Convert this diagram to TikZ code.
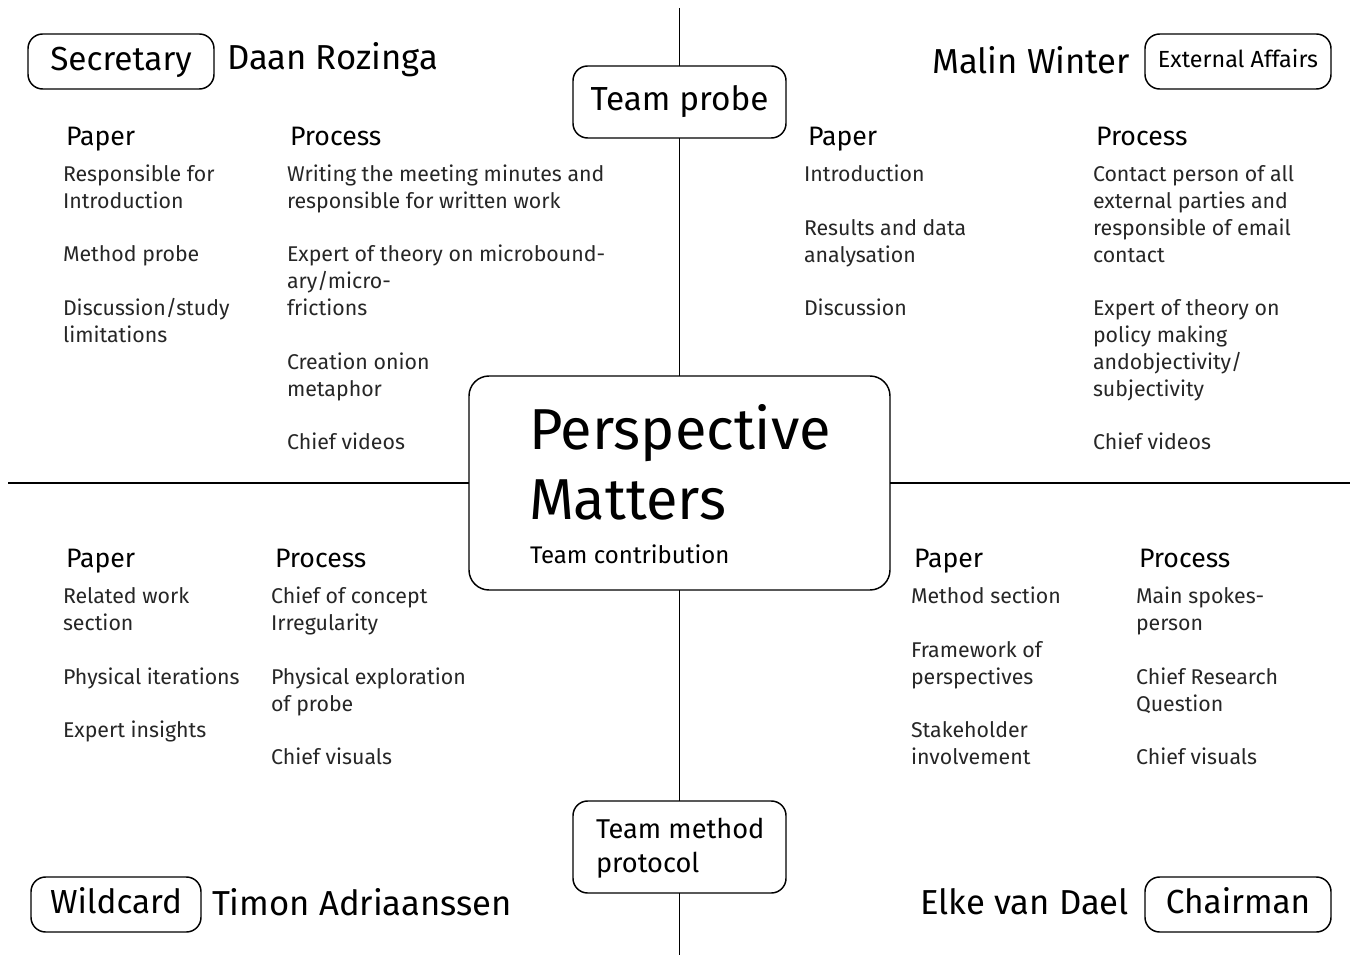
\documentclass[tikz,border=0pt]{standalone}
\usepackage{fontspec}
\setmainfont{Fira Sans}
\begin{document}
\begin{tikzpicture}[x=0.75pt,y=-0.75pt,
  every node/.style={inner sep=0pt, outer sep=0pt},
  rbox/.style={draw, line width=1.1pt, rounded corners=11pt, fill=white},
  bodytxt/.style={anchor=base west, align=left, font=\fontsize{16}{20.25}\selectfont, text=black!85},
  headtxt/.style={anchor=base west, font=\fontsize{20}{22}\selectfont},
  nametxt/.style={anchor=west, font=\fontsize{26}{28}\selectfont},
  rolebig/.style={font=\fontsize{25}{28}\selectfont, text height=18pt, text depth=5pt},
  rolesmall/.style={font=\fontsize{17.5}{20}\selectfont, text height=12.6pt, text depth=3.6pt},
  ln/.style={line width=1.1pt}]
\useasboundingbox (0,0) rectangle (1353,955);
% boxes
\node[rbox, minimum width=213*0.75pt, minimum height=72*0.75pt, rolebig] (probe) at (679.5,102) {Team probe};
\node[rbox, rounded corners=15pt, minimum width=421*0.75pt, minimum height=214*0.75pt] (center) at (679.5,483) {};
\node[anchor=base west, font=\fontsize{43.3}{48}\selectfont] (pers) at (529,450) {Perspective};
\node[anchor=base west, font=\fontsize{43.3}{48}\selectfont] (matt) at (529,519) {Matters};
\node[anchor=base west, font=\fontsize{18}{20}\selectfont] (contrib) at (530,563) {Team contribution};
\node[rbox, minimum width=213*0.75pt, minimum height=92*0.75pt] (method) at (679.5,847) {};
\node[anchor=base west, align=left, font=\fontsize{20.4}{25.5}\selectfont] (methodtxt) at (596,872) {Team method\\protocol};
% connectors
\coordinate (top) at (679.5,8);
\coordinate (bot) at (679.5,955);
\coordinate (left) at (8,483);
\coordinate (right) at (1350,483);
\draw[ln] (top) -- (probe.north);
\draw[ln] (probe.south) -- (center.north);
\draw[ln] (center.south) -- (method.north);
\draw[ln] (method.south) -- (bot);
\draw[ln] (left) -- (center.west);
\draw[ln] (center.east) -- (right);
% corners: names and roles
\node[rbox, minimum width=186*0.75pt, minimum height=55*0.75pt, rolebig] (sec) at (121,61.5) {Secretary};
\node[nametxt] (daan) at (227,60) {Daan Rozinga};
\node[rbox, minimum width=186*0.75pt, minimum height=55*0.75pt, rolesmall] (ext) at (1238,61.5) {External Affairs};
\node[nametxt, anchor=east] (malin) at (1130,60) {Malin Winter};
\node[rbox, minimum width=170*0.75pt, minimum height=55*0.75pt, rolebig] (wild) at (116,904.5) {Wildcard};
\node[nametxt] (timon) at (212,902) {Timon Adriaanssen};
\node[rbox, minimum width=186*0.75pt, minimum height=55*0.75pt, rolebig] (chair) at (1238,904.5) {Chairman};
\node[nametxt, anchor=east] (elke) at (1129,902) {Elke van Dael};
% top-left quadrant
\node[headtxt] (tlp) at (66,146) {Paper};
\node[headtxt] (tlq) at (290,146) {Process};
\node[bodytxt] (tl1) at (63,209) {Responsible for\\Introduction};
\node[bodytxt] (tl2) at (63,262) {Method probe};
\node[bodytxt] (tl3) at (63,343) {Discussion/study\\limitations};
\node[bodytxt] (tl4) at (287,209) {Writing the meeting minutes and\\responsible for written work};
\node[bodytxt] (tl5) at (287,316) {Expert of theory on microbound-\\ary/micro-\\frictions};
\node[bodytxt] (tl6) at (287,397) {Creation onion\\metaphor};
\node[bodytxt] (tl7) at (287,450) {Chief videos};
% top-right quadrant
\node[headtxt] (trp) at (808,146) {Paper};
\node[headtxt] (trq) at (1096,146) {Process};
\node[bodytxt] (tr1) at (804,182) {Introduction};
\node[bodytxt] (tr2) at (804,263) {Results and data\\analysation};
\node[bodytxt] (tr3) at (804,316) {Discussion};
\node[bodytxt] (tr4) at (1093,263) {Contact person of all\\external parties and\\responsible of email\\contact};
\node[bodytxt] (tr5) at (1093,397) {Expert of theory on\\policy making\\andobjectivity/\\subjectivity};
\node[bodytxt] (tr6) at (1093,450) {Chief videos};
% bottom-left quadrant
\node[headtxt] (blp) at (66,567) {Paper};
\node[headtxt] (blq) at (275,567) {Process};
\node[bodytxt] (bl1) at (63,630) {Related work\\section};
\node[bodytxt] (bl2) at (63,684) {Physical iterations};
\node[bodytxt] (bl3) at (63,737) {Expert insights};
\node[bodytxt] (bl4) at (271,630) {Chief of concept\\Irregularity};
\node[bodytxt] (bl5) at (271,711) {Physical exploration\\of probe};
\node[bodytxt] (bl6) at (271,764) {Chief visuals};
% bottom-right quadrant
\node[headtxt] (brp) at (914,567) {Paper};
\node[headtxt] (brq) at (1139,567) {Process};
\node[bodytxt] (br1) at (911,603) {Method section};
\node[bodytxt] (br2) at (911,684) {Framework of\\perspectives};
\node[bodytxt] (br3) at (911,764) {Stakeholder\\involvement};
\node[bodytxt] (br4) at (1136,630) {Main spokes-\\person};
\node[bodytxt] (br5) at (1136,711) {Chief Research\\Question};
\node[bodytxt] (br6) at (1136,764) {Chief visuals};
\end{tikzpicture}
\end{document}
